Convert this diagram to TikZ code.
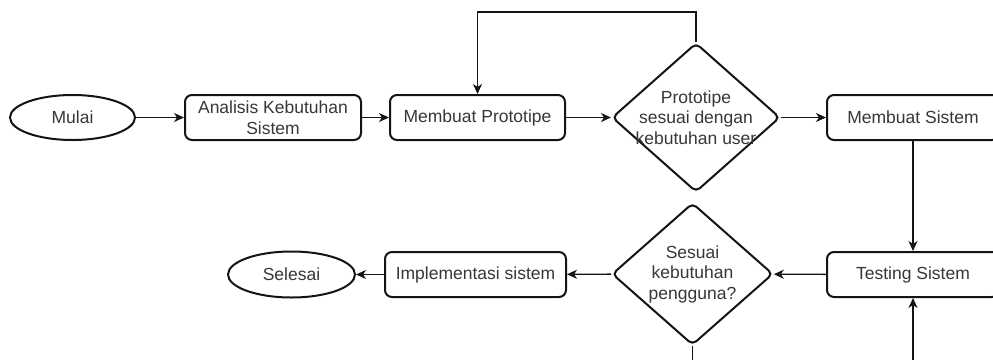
\documentclass[tikz,border=0pt]{standalone}
\usepackage{fontspec}
\setmainfont{Liberation Sans}
\usetikzlibrary{shapes.geometric,arrows.meta}
\definecolor{linec}{RGB}{20,20,20}
\definecolor{textc}{RGB}{55,55,55}
\tikzset{
  shp/.style={draw=linec, line width=2pt, fill=white, inner sep=0pt, text=textc,
    font=\fontsize{17.5}{20.5}\selectfont, align=center},
  proc/.style={shp, rectangle, rounded corners=7pt, minimum height=45pt},
  term/.style={shp, ellipse, minimum height=45pt},
  decision/.style={shp, diamond, rounded corners=5pt},
  dtext/.style={inner sep=0pt, text=textc, font=\fontsize{17.5}{20.5}\selectfont, align=center},
  conn/.style={draw=linec, line width=1.4pt, -{Stealth[length=10pt,width=9pt,inset=3pt]}},
  plain/.style={draw=linec, line width=1.4pt}
}
\begin{document}
\begin{tikzpicture}[x=1pt,y=-1pt]
\useasboundingbox (0,0) rectangle (993,359);
\clip (0,0) rectangle (993,359);
% nodes
\node[term, minimum width=125pt] (mulai) at (72.5,117.5) {Mulai};
\node[proc, minimum width=176pt] (analisis) at (273,117.5) {Analisis Kebutuhan\\Sistem};
\node[proc, minimum width=175pt] (proto) at (477.5,117.5) {Membuat Prototipe};
\node[decision, minimum width=168pt, minimum height=149pt] (d1) at (696,117.5) {};
\node[dtext] (d1t) at (d1) {Prototipe\\sesuai dengan\\kebutuhan user};
\node[proc, minimum width=172pt] (ms) at (913,117.5) {Membuat Sistem};
\node[proc, minimum width=172pt] (test) at (913,274.5) {Testing Sistem};
\node[decision, minimum width=161pt, minimum height=142pt] (d2) at (692.5,274) {};
\node[dtext] (d2t) at (d2) {Sesuai\\kebutuhan\\pengguna?};
\node[proc, minimum width=181pt] (impl) at (475.5,274.5) {Implementasi sistem};
\node[term, minimum width=127pt, minimum height=46pt] (selesai) at (291.5,274.5) {Selesai};
\coordinate (loopy) at (0,12);
\coordinate (bot) at (913,370);
\coordinate (bot2) at (692.5,370);
% connectors
\draw[conn] (mulai) -- (analisis);
\draw[conn] (analisis) -- (proto);
\draw[conn] (proto) -- (d1);
\draw[conn] (d1) -- (ms);
\draw[conn] (d1.north) -- (d1.north |- loopy) -| (proto.north);
\draw[conn] (ms) -- (test);
\draw[conn] (bot) -- (test.south);
\draw[conn] (test) -- (d2);
\draw[conn] (d2) -- (impl);
\draw[conn] (impl) -- (selesai);
\draw[plain] (d2.south) -- (bot2);
\end{tikzpicture}
\end{document}
